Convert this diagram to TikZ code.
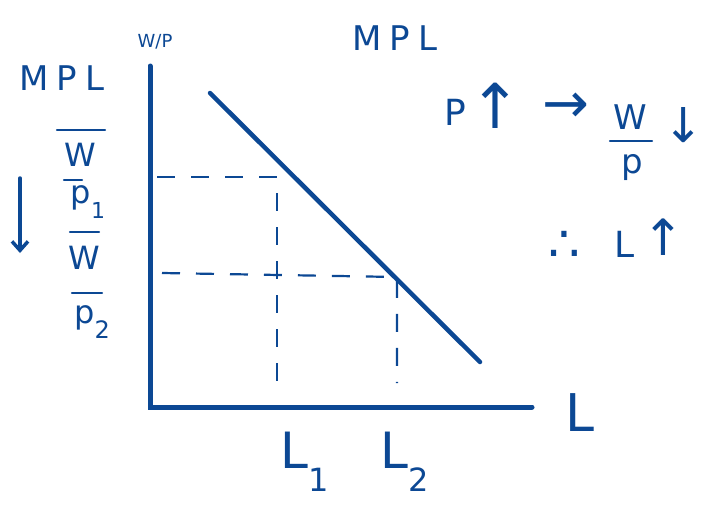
\documentclass[tikz,border=0pt]{standalone}
\usepackage{fontspec}
\setmainfont{DejaVu Sans}
\usetikzlibrary{arrows.meta}
\definecolor{ink}{RGB}{12,72,148}
\newcommand{\lowsub}[2]{\raisebox{-0.45em}{\fontsize{#1}{#1}\selectfont #2}}
\begin{document}
\begin{tikzpicture}[x=1pt,y=-1pt,
  axis/.style={draw=ink,line width=5pt,line cap=round},
  curve/.style={draw=ink,line width=4.5pt,line cap=round},
  guide/.style={draw=ink,line width=2.2pt,dash pattern=on 18pt off 16pt},
  bar/.style={draw=ink,line width=2.2pt,line cap=round},
  lab/.style={text=ink,inner sep=0pt,font=\fontsize{#1}{#1}\selectfont},
  lab/.default=30,
  spaced/.style={font=\fontsize{#1}{#1}\selectfont\addfontfeature{LetterSpace=25}}]
\useasboundingbox (0,0) rectangle (704,520);
% axes
\coordinate (O) at (150,407);
\coordinate (ytop) at (150,66);
\coordinate (xend) at (532,407);
\draw[axis] (ytop) -- (O) -- (xend);
% MPL curve
\coordinate (c1) at (210,93);
\coordinate (c2) at (480,362);
\draw[curve] (c1) -- (c2);
% guide points
\coordinate (p1) at (277,177);
\coordinate (p2) at (397,277);
\coordinate (y1) at (157,177);
\coordinate (y2) at (162,273);
\coordinate (b1) at (277,385);
\coordinate (b2) at (397,383);
\draw[guide] (y1) -- (p1) -- (b1);
\draw[guide] (y2) -- (p2) -- (b2);
% labels
\node[lab=18] (wp) at (155,42) {W/P};
\node[lab, spaced=34] (mplL) at (62,78) {MPL};
\node[lab, spaced=34] (mplT) at (395,38) {MPL};
\node[lab=52] (Lx) at (580,413) {L};
\node[lab=50] (L1) at (305,462) {L\lowsub{32}{1}};
\node[lab=50] (L2) at (405,462) {L\lowsub{32}{2}};
% left fractions
\coordinate (bA1) at (57,130); \coordinate (bA2) at (105,130);
\draw[bar] (bA1) -- (bA2);
\node[lab=32] (W1) at (80,155) {W};
\coordinate (bE1) at (64,180); \coordinate (bE2) at (82,180);
\draw[bar] (bE1) -- (bE2);
\node[lab=32] (P1) at (88,202) {p\lowsub{22}{1}};
\coordinate (bB1) at (70,232); \coordinate (bB2) at (99,232);
\draw[bar] (bB1) -- (bB2);
\node[lab=32] (W2) at (84,258) {W};
\node[lab=32] (P2) at (92,322) {p\lowsub{24}{2}};
\coordinate (bC1) at (72,293); \coordinate (bC2) at (102,293);
\draw[bar] (bC1) -- (bC2);
\coordinate (dA) at (20,178); \coordinate (dB) at (20,253);
\draw[bar,line width=3.5pt,-{Straight Barb[length=9pt,width=16pt]}] (dA) -- (dB);
% right statements
\node[lab=36] (Pu) at (455,112) {P};
\node[lab=62] (up1) at (495,106) {↑};
\node[lab=56] (rto) at (566,108) {→};
\node[lab=34] (Wr) at (630,117) {W};
\coordinate (bD1) at (610,141); \coordinate (bD2) at (652,141);
\draw[bar] (bD1) -- (bD2);
\node[lab=34] (Pr) at (632,168) {p};
\node[lab=48] (dn) at (684,125) {↓};
\node[lab=50] (ther) at (564,246) {∴};
\node[lab=36] (Lr) at (625,244) {L};
\node[lab=50] (up2) at (663,237) {↑};
\end{tikzpicture}
\end{document}
